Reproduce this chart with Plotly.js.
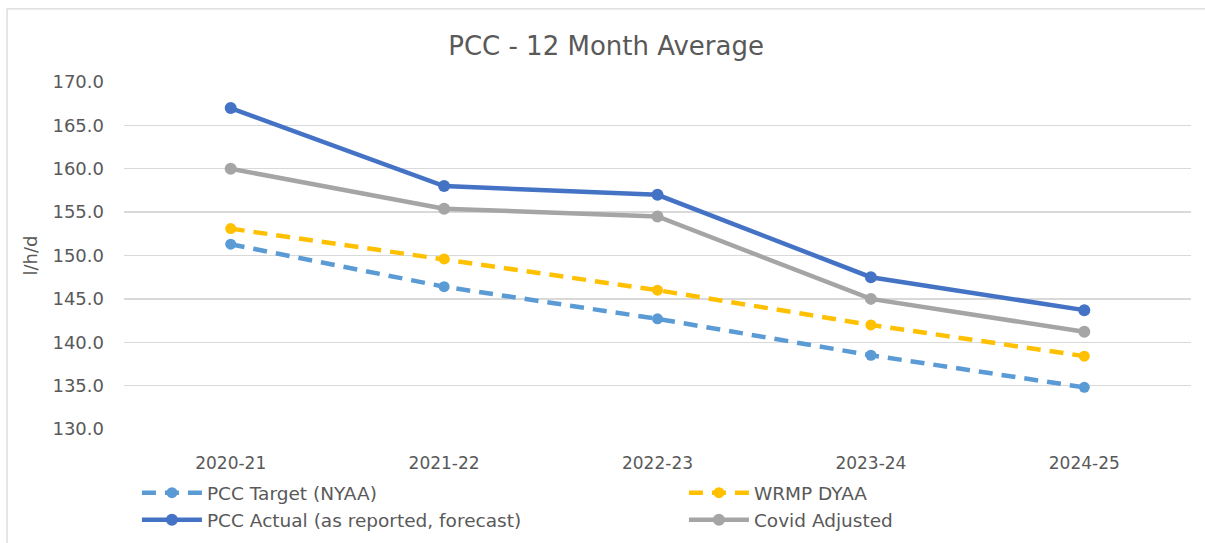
<!DOCTYPE html>
<html>
<head>
<meta charset="utf-8">
<script src="https://cdn.plot.ly/plotly-3.0.1.min.js"></script>
<style>html,body{margin:0;padding:0;background:#fff;}#chart{width:1205px;height:543px;}</style>
</head>
<body>
<div id="chart"></div>
<script>
const categories = ["2020-21", "2021-22", "2022-23", "2023-24", "2024-25"];
const pccTarget = [151.3, 146.4, 142.7, 138.5, 134.8];
const wrmpDyaa = [153.1, 149.6, 146.0, 142.0, 138.4];
const pccActual = [167.0, 158.0, 157.0, 147.5, 143.7];
const covidAdjusted = [160.0, 155.4, 154.5, 145.0, 141.2];
const seriesNames = ["PCC Target (NYAA)", "WRMP DYAA", "PCC Actual (as reported, forecast)", "Covid Adjusted"];

const FONT = "'DejaVu Sans', sans-serif";
const GREY = "#595959";

const traces = [
  {x: categories, y: pccTarget, name: seriesNames[0], type: "scatter", mode: "lines+markers",
   line: {color: "#5B9BD5", width: 4.5, dash: "14px,9px"}, marker: {color: "#5B9BD5", size: 11}},
  {x: categories, y: wrmpDyaa, name: seriesNames[1], type: "scatter", mode: "lines+markers",
   line: {color: "#FFC000", width: 4.5, dash: "14px,9px"}, marker: {color: "#FFC000", size: 11}},
  {x: categories, y: pccActual, name: seriesNames[2], type: "scatter", mode: "lines+markers",
   line: {color: "#4472C4", width: 4.5}, marker: {color: "#4472C4", size: 12}},
  {x: categories, y: covidAdjusted, name: seriesNames[3], type: "scatter", mode: "lines+markers",
   line: {color: "#A5A5A5", width: 4.5}, marker: {color: "#A5A5A5", size: 12}}
];

const layout = {
  width: 1205, height: 543,
  paper_bgcolor: "#fff", plot_bgcolor: "#fff",
  margin: {l: 124, r: 13.5, t: 81.7, b: 113.7, autoexpand: false},
  font: {family: FONT, color: GREY, size: 18},
  title: {text: "PCC - 12 Month Average", font: {family: FONT, size: 26, color: GREY},
          x: 0.503, xanchor: "center", y: 0.915, yanchor: "middle"},
  xaxis: {type: "category", range: [-0.5, 4.5], showgrid: false, zeroline: false, showline: false,
          ticks: "", tickfont: {size: 17, color: GREY}, ticklabelstandoff: 22, fixedrange: true},
  yaxis: {range: [130, 170], dtick: 5, tick0: 130, tickformat: ".1f",
          showgrid: true, gridcolor: "#D9D9D9", gridwidth: 1.3, zeroline: false, showline: false,
          ticks: "", tickfont: {size: 18, color: GREY}, ticklabelstandoff: 19,
          title: {text: "l/h/d", font: {size: 18, color: GREY}, standoff: 10}, fixedrange: true},
  showlegend: true,
  legend: {orientation: "h", x: -0.001, xanchor: "left", y: -0.13, yanchor: "top",
           entrywidth: 458, itemwidth: 60, indentation: 14,
           font: {size: 18.5, color: GREY}, traceorder: "normal",
           bgcolor: "rgba(0,0,0,0)"},
  shapes: [
    {type: "rect", xref: "paper", yref: "paper", x0: -0.1096, x1: 1.05, y0: -0.4, y1: 1.211,
     line: {color: "#D9D9D9", width: 1.3}, fillcolor: "rgba(0,0,0,0)", layer: "below"}
  ]
};

Plotly.newPlot("chart", traces, layout, {displayModeBar: false, staticPlot: true});
</script>
</body>
</html>
